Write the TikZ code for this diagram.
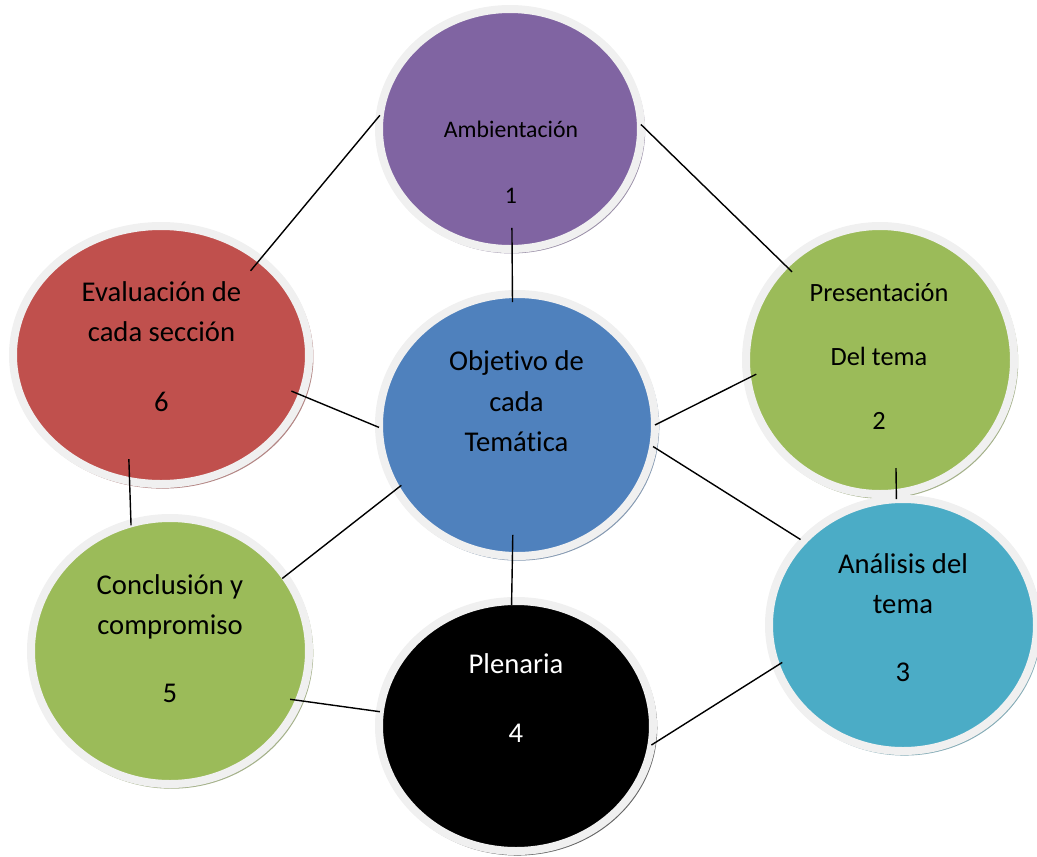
\documentclass[tikz,border=0pt]{standalone}
\usepackage{fontspec}
\setmainfont{Carlito}[Ligatures=CommonOff]
\usetikzlibrary{shapes.geometric,shadows}

\definecolor{purp}{RGB}{128,100,162}
\definecolor{lgreen}{RGB}{155,187,89}
\definecolor{sblue}{RGB}{79,129,189}
\definecolor{sred}{RGB}{192,80,77}
\definecolor{aqua}{RGB}{75,172,198}
\definecolor{rim}{RGB}{240,240,240}

\tikzset{
  bubble/.style={ellipse, draw=rim, line width=0.16cm, outer sep=0pt, fill=#1,
    drop shadow={shadow xshift=0.03cm, shadow yshift=-0.04cm, shadow scale=1.02,
      fill=#1!50!gray, opacity=0.8}},
  txt/.style={align=center, inner sep=0pt},
  link/.style={line width=0.8pt}
}

\begin{document}
\begin{tikzpicture}
\useasboundingbox (0,0) rectangle (20.74,-17.14);

% Draw the circles
\node[bubble=purp, minimum width=5.24cm, minimum height=4.8cm] (amb) at (10.2,-2.58) {};
\node[bubble=lgreen, minimum width=5.36cm, minimum height=5.36cm] (pres) at (17.6,-7.2) {};
\node[bubble=aqua, minimum width=5.36cm, minimum height=5.04cm] (ana) at (18.06,-12.5) {};
\node[bubble=black, minimum width=5.48cm, minimum height=5cm] (plen) at (10.32,-14.52) {};
\node[bubble=lgreen, minimum width=5.56cm, minimum height=5.32cm] (concl) at (3.4,-13.02) {};
\node[bubble=sred, minimum width=5.92cm, minimum height=5.16cm] (eval) at (3.22,-7.1) {};
\node[bubble=sblue, minimum width=5.52cm, minimum height=5.24cm] (obj) at (10.34,-8.5) {};

% Draw the links
\draw[link, shorten <=-0.42cm, shorten >=-0.16cm] (amb.-89) -- (obj.92);
\draw[link, shorten >=-0.3cm] (amb.174) -- (eval.44);
\draw[link, shorten >=-0.19cm] (amb.2) -- (pres.135);
\draw[link, shorten <=-0.2cm] (pres.188) -- (obj.0);
\draw[link, shorten <=-0.5cm] (pres.-83) -- (ana.93);
\draw[link, shorten >=0.06cm] (obj.-9) -- (ana.140);
\draw[link, shorten <=-0.42cm, shorten >=-0.08cm] (obj.-92) -- (plen.92);
\draw[link, shorten <=-0.12cm, shorten >=-0.07cm] (obj.208) -- (concl.33);
\draw[link, shorten >=-0.22cm] (obj.181) -- (eval.-16);
\draw[link, shorten <=-0.44cm, shorten >=-0.04cm] (eval.-104) -- (concl.107);
\draw[link, shorten <=-0.18cm] (concl.-21) -- (plen.174);
\draw[link, shorten >=-0.14cm] (plen.-8) -- (ana.198);

% Write the texts
\node[txt, font=\fontsize{13.5}{37.6}\selectfont] (ambTxt) at (10.22,-3.24) {Ambientación\\1};
\node[txt, font=\fontsize{15}{36.4}\selectfont] (presTxt) at (17.58,-7.12) {Presentación\\Del tema\\2};
\node[txt, font=\fontsize{16.3}{22.8}\selectfont] (anaTxt) at (18.06,-12.36) {Análisis del\\tema\\[16pt]3};
\node[txt, font=\fontsize{16.3}{22.8}\selectfont, text=white] (plenTxt) at (10.32,-13.96) {Plenaria\\[16pt]4};
\node[txt, font=\fontsize{16.3}{22.8}\selectfont] (conclTxt) at (3.4,-12.78) {Conclusión y\\compromiso\\[16pt]5};
\node[txt, font=\fontsize{16.3}{22.8}\selectfont] (evalTxt) at (3.23,-6.94) {Evaluación de\\cada sección\\[17pt]6};
\node[txt, font=\fontsize{16.3}{23}\selectfont] (objTxt) at (10.33,-8.03) {Objetivo de\\cada\\Temática};

\end{tikzpicture}
\end{document}
